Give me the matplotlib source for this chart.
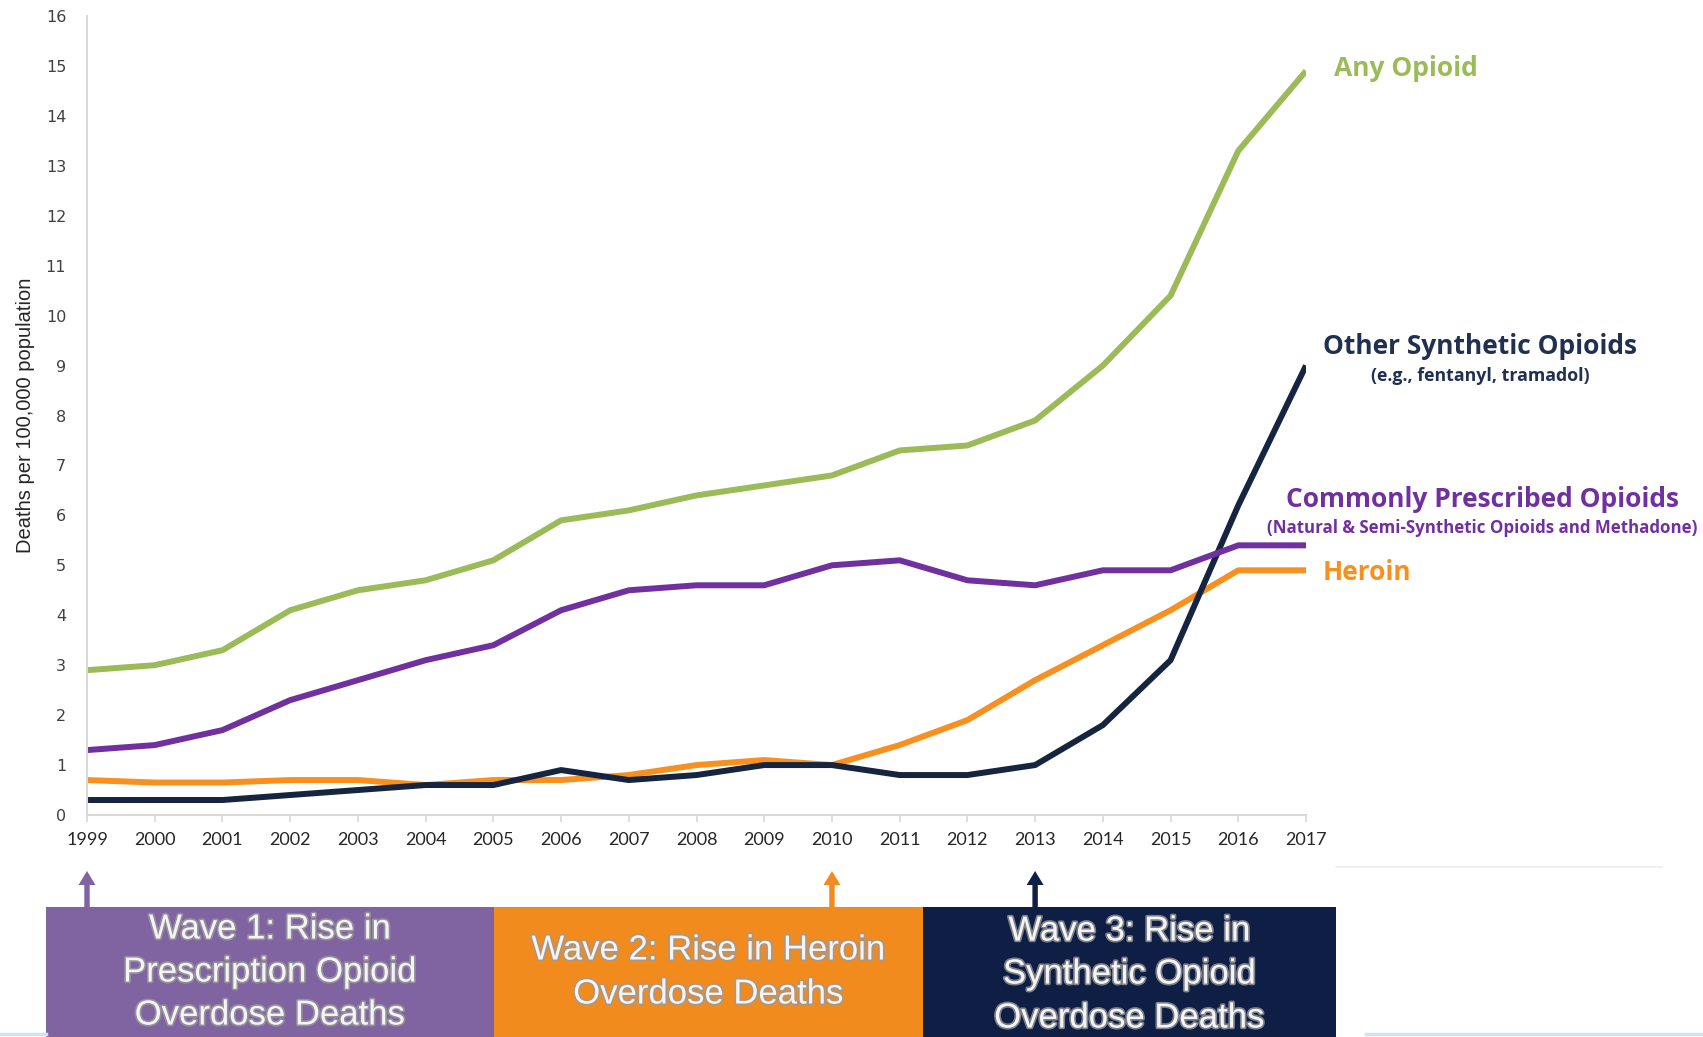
import matplotlib.pyplot as plt
import matplotlib.patheffects as pe
from matplotlib.patches import FancyArrow
from matplotlib.transforms import blended_transform_factory
from matplotlib import font_manager

years = list(range(1999, 2018))
any_opioid = [2.9, 3.0, 3.3, 4.1, 4.5, 4.7, 5.1, 5.9, 6.1, 6.4, 6.6, 6.8, 7.3, 7.4, 7.9, 9.0, 10.4, 13.3, 14.9]
prescribed = [1.3, 1.4, 1.7, 2.3, 2.7, 3.1, 3.4, 4.1, 4.5, 4.6, 4.6, 5.0, 5.1, 4.7, 4.6, 4.9, 4.9, 5.4, 5.4]
heroin = [0.7, 0.65, 0.65, 0.7, 0.7, 0.6, 0.7, 0.7, 0.8, 1.0, 1.1, 1.0, 1.4, 1.9, 2.7, 3.4, 4.1, 4.9, 4.9]
synthetic = [0.3, 0.3, 0.3, 0.4, 0.5, 0.6, 0.6, 0.9, 0.7, 0.8, 1.0, 1.0, 0.8, 0.8, 1.0, 1.8, 3.1, 6.2, 9.0]

wave_years = [1999, 2010, 2013]
wave_texts = ["Wave 1: Rise in\nPrescription Opioid\nOverdose Deaths",
              "Wave 2: Rise in Heroin\nOverdose Deaths",
              "Wave 3: Rise in\nSynthetic Opioid\nOverdose Deaths"]

GREEN = '#9BBB59'
PURPLE = '#7030A0'
ORANGE = '#F7901E'
NAVY = '#15253F'
LABEL_NAVY = '#1F3050'
BOX_COLORS = ['#8064A2', '#F28B1E', '#0E1E45']

installed = {f.name for f in font_manager.fontManager.ttflist}
narrow = 'Liberation Sans Narrow' if 'Liberation Sans Narrow' in installed else 'Liberation Sans'

W, H = 1703, 1037
fig = plt.figure(figsize=(W / 100, H / 100), dpi=100)

# overlay in pixel coordinates for the wave boxes
bg = fig.add_axes([0, 0, 1, 1], zorder=0)
bg.set_xlim(0, W)
bg.set_ylim(H, 0)
bg.axis('off')

ax = fig.add_axes([87 / W, 1 - 815 / H, (1306 - 87) / W, (815 - 16) / H], zorder=2)
ax.patch.set_alpha(0)

lw = 4.3
style = dict(lw=lw, solid_joinstyle='round', solid_capstyle='butt')
ax.plot(years, heroin, color=ORANGE, **style)
ax.plot(years, synthetic, color=NAVY, **style)
ax.plot(years, prescribed, color=PURPLE, **style)
ax.plot(years, any_opioid, color=GREEN, **style)

ax.set_xlim(1999, 2017)
ax.set_ylim(0, 16)
ax.set_xticks(years)
ax.set_xticklabels([str(y) for y in years], fontfamily='Lato', fontsize=13, color='#262626')
ax.set_yticks(range(0, 17))
ax.set_yticklabels([str(v) for v in range(0, 17)], fontfamily='DejaVu Sans', fontsize=11.5, color='#404040')
ax.tick_params(axis='y', length=0, pad=15)
ax.tick_params(axis='x', length=5, width=1.2, color='#D9D9D9', pad=7)
for side in ['top', 'right']:
    ax.spines[side].set_visible(False)
for side in ['left', 'bottom']:
    ax.spines[side].set_color('#D9D9D9')
    ax.spines[side].set_linewidth(1.5)
ax.set_ylabel("Deaths per 100,000 population", fontfamily=narrow, fontsize=14.5, color='#262626', labelpad=8)

# series labels on the right
lab = dict(fontfamily='Open Sans', fontweight='bold', va='center', clip_on=False)
ax.text(2017.42, 14.95, "Any Opioid", color=GREEN, fontsize=19, ha='left', **lab)
ax.text(2019.57, 9.38, "Other Synthetic Opioids", color=LABEL_NAVY, fontsize=19, ha='center', **lab)
ax.text(2019.57, 8.79, "(e.g., fentanyl, tramadol)", color=LABEL_NAVY, fontsize=12.8, ha='center', **lab)
ax.text(2019.6, 6.31, "Commonly Prescribed Opioids", color=PURPLE, fontsize=19, ha='center', **lab)
ax.text(2019.6, 5.75, "(Natural & Semi-Synthetic Opioids and Methadone)", color=PURPLE,
        fontsize=12.2, ha='center', **lab)
ax.text(2017.24, 4.85, "Heroin", color=ORANGE, fontsize=19, ha='left', **lab)

# wave boxes along the bottom
box_edges = [46, 494, 923, 1336]
box_top = 907
line_rows = [[929, 972, 1015], [950, 994], [931, 974, 1018]]
for i in range(3):
    x0, x1 = box_edges[i], box_edges[i + 1]
    bg.add_patch(plt.Rectangle((x0, box_top), x1 - x0, H - box_top, color=BOX_COLORS[i], lw=0))
    cx = (x0 + x1) / 2
    for row, line in zip(line_rows[i], wave_texts[i].split('\n')):
        bg.text(cx, row, line, color='#F4F4F4', fontfamily=narrow, fontsize=25, ha='center',
                va='center', path_effects=[pe.withStroke(linewidth=2.5, foreground='#9A9A9A', alpha=0.8)])

# arrows pointing up to the wave start years
trans = blended_transform_factory(ax.transData, fig.transFigure)
for yr, col in zip(wave_years, BOX_COLORS):
    fig.add_artist(FancyArrow(
        yr, 1 - 907 / H, 0, 36 / H, width=0.08, head_width=0.25, head_length=14 / H,
        length_includes_head=True, color=col, transform=trans, lw=0))

# faint rules at the right edge
bg.plot([1336, 1662], [867, 867], color='#EDEDED', lw=1.2)
bg.plot([1366, 1703], [1034, 1034], color='#CFE3F5', lw=2.5)
bg.plot([0, 46], [1034, 1034], color='#CFE3F5', lw=2.5)

fig.savefig('out.png', dpi=100)
